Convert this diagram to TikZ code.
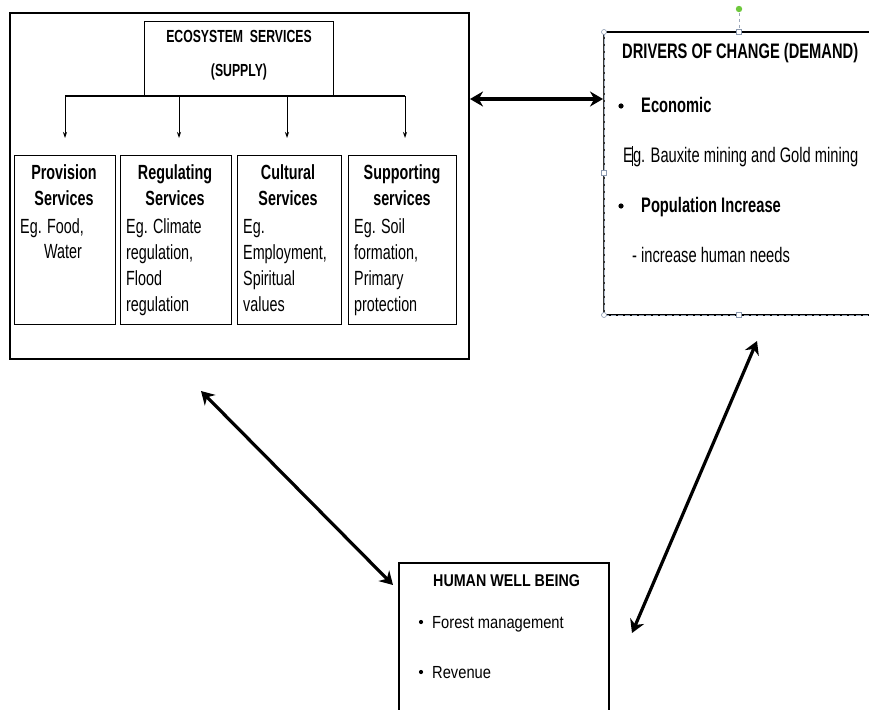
\documentclass[tikz,border=0pt]{standalone}
\usepackage{fontspec}
\setmainfont{Liberation Sans}
\newfontfamily\nar[FakeStretch=0.7]{Liberation Sans}
\newfontfamily\wid[FakeStretch=0.84]{Liberation Sans}
\usetikzlibrary{arrows.meta}
\definecolor{handle}{RGB}{90,110,140}
\definecolor{rotgreen}{RGB}{110,200,60}
\tikzset{
  box/.style={draw=black, line width=1pt, inner sep=0pt, anchor=north west},
  txt/.style={inner sep=0pt, anchor=base west, font=\nar\fontsize{20.5}{26}\selectfont},
  ttl/.style={inner sep=0pt, anchor=base, font=\nar\bfseries\fontsize{20.5}{26}\selectfont},
  small/.style={line width=0.8pt, -{Stealth[length=6pt,width=4pt]}},
  big/.style={line width=3.6pt, {Stealth[length=13pt,width=15pt]}-{Stealth[length=13pt,width=15pt]}},
  hcirc/.style={circle, draw=handle!70, fill=white, line width=0.6pt, inner sep=0pt, minimum size=5pt},
  hsq/.style={rectangle, draw=handle!70, fill=white, line width=0.6pt, inner sep=0pt, minimum size=5pt}
}
\begin{document}
\begin{tikzpicture}[x=1pt,y=-1pt]
\clip (0,0) rectangle (869,709);
\fill[white] (0,0) rectangle (869,709);

% outer supply box
\node[box, line width=2.4pt, minimum width=459pt, minimum height=346pt] (outer) at (9,12) {};
% ecosystem services title box
\node[box, line width=1.4pt, minimum width=189pt, minimum height=75pt] (eco) at (144,21) {};
\node[inner sep=0pt, anchor=base, font=\nar\bfseries\fontsize{17.5}{22}\selectfont] (ecot1) at (239,43) {ECOSYSTEM\ \ SERVICES};
\node[inner sep=0pt, anchor=base, font=\nar\bfseries\fontsize{17.5}{22}\selectfont] (ecot2) at (239,77) {(SUPPLY)};

% tree connectors
\coordinate (h1) at (65,96);
\coordinate (h2) at (179,96);
\coordinate (h3) at (287,96);
\coordinate (h4) at (405,96);
\coordinate (a1) at (65,138);
\coordinate (a2) at (179,138);
\coordinate (a3) at (287,138);
\coordinate (a4) at (405,138);
\draw[line width=1.2pt] (h1) -- (h4);
\draw[small] (h1) -- (a1);
\draw[small] (h2) -- (a2);
\draw[small] (h3) -- (a3);
\draw[small] (h4) -- (a4);

% child boxes
\node[box, minimum width=101pt, minimum height=169pt] (b1) at (14,155) {};
\node[box, minimum width=111pt, minimum height=169pt] (b2) at (120,155) {};
\node[box, minimum width=104pt, minimum height=169pt] (b3) at (237,155) {};
\node[box, minimum width=108pt, minimum height=169pt] (b4) at (348,155) {};

% provision
\node[ttl] (p1) at (64,179) {Provision};
\node[ttl] (p2) at (64,205) {Services};
\node[txt] (p3) at (20,233) {Eg. Food,};
\node[txt] (p4) at (44,258) {Water};
% regulating
\node[ttl] (r1) at (175,179) {Regulating};
\node[ttl] (r2) at (175,205) {Services};
\node[txt] (r3) at (126,233) {Eg. Climate};
\node[txt] (r4) at (126,259) {regulation,};
\node[txt] (r5) at (126,285) {Flood};
\node[txt] (r6) at (126,311) {regulation};
% cultural
\node[ttl] (c1) at (288,179) {Cultural};
\node[ttl] (c2) at (288,205) {Services};
\node[txt] (c3) at (243,233) {Eg.};
\node[txt] (c4) at (243,259) {Employment,};
\node[txt] (c5) at (243,285) {Spiritual};
\node[txt] (c6) at (243,311) {values};
% supporting
\node[ttl] (s1) at (402,179) {Supporting};
\node[ttl] (s2) at (402,205) {services};
\node[txt] (s3) at (354,233) {Eg. Soil};
\node[txt] (s4) at (354,259) {formation,};
\node[txt] (s5) at (354,285) {Primary};
\node[txt] (s6) at (354,311) {protection};

% drivers of change box (selected, with handles)
\coordinate (dtl) at (604,32);
\coordinate (dbr) at (885,315);
\draw[line width=1.8pt, black] (dtl) -- (885,32);
\draw[line width=1.6pt, black] (604,315) -- (dbr);
\draw[line width=1.4pt, black!80] (dtl) -- (604,315);
\draw[line width=1pt, handle!60, dash pattern=on 5pt off 2pt] (604,315) -- (dbr);
\draw[line width=0.9pt, handle!50, dash pattern=on 5pt off 2pt] (dtl) -- (604,315);
\draw[dashed, handle!60, line width=0.6pt] (739,13) -- (739,30);
\fill[rotgreen] (739,9) circle (3.2pt);
\node[hcirc] (hc1) at (604,32) {};
\node[hsq] (hs1) at (739,32) {};
\node[hsq] (hs2) at (604,173) {};
\node[hcirc] (hc2) at (604,315) {};
\node[hsq] (hs3) at (739,315) {};

\node[inner sep=0pt, anchor=base west, font=\nar\bfseries\fontsize{21}{26}\selectfont] (dt) at (622,59) {DRIVERS OF CHANGE (DEMAND)};
\fill (621,106) circle (2.6pt);
\node[inner sep=0pt, anchor=base west, font=\nar\bfseries\fontsize{21}{26}\selectfont] (de) at (641,112) {Economic};
\node[inner sep=0pt, anchor=base west, font=\nar\fontsize{21}{26}\selectfont] (deg) at (623,162) {Eg. Bauxite mining and Gold mining};
\draw[line width=0.8pt] (632.5,146) -- (632.5,166);
\fill (621,206) circle (2.6pt);
\node[inner sep=0pt, anchor=base west, font=\nar\bfseries\fontsize{21}{26}\selectfont] (dp) at (641,212) {Population Increase};
\node[inner sep=0pt, anchor=base west, font=\nar\fontsize{21}{26}\selectfont] (dh) at (632,262) {- increase human needs};

% human well being box
\node[box, line width=1.8pt, minimum width=210pt, minimum height=160pt] (hwb) at (398,562) {};
\node[inner sep=0pt, anchor=base west, font=\wid\bfseries\fontsize{17}{20}\selectfont] (ht) at (433,586) {HUMAN WELL BEING};
\fill (421,622) circle (2.1pt);
\node[inner sep=0pt, anchor=base west, font=\wid\fontsize{17.5}{20}\selectfont] (hf) at (432,628) {Forest management};
\fill (421,672) circle (2.1pt);
\node[inner sep=0pt, anchor=base west, font=\wid\fontsize{17.5}{20}\selectfont] (hr) at (432,678) {Revenue};

% double arrows
\coordinate (e1) at (470,99);
\coordinate (e2) at (603,99);
\coordinate (e3) at (201,391);
\coordinate (e4) at (393,585);
\coordinate (e5) at (757,341);
\coordinate (e6) at (632,633);
\draw[big] (e1) -- (e2);
\draw[big, line width=3.2pt] (e3) -- (e4);
\draw[big, line width=3.2pt] (e5) -- (e6);
\end{tikzpicture}
\end{document}
